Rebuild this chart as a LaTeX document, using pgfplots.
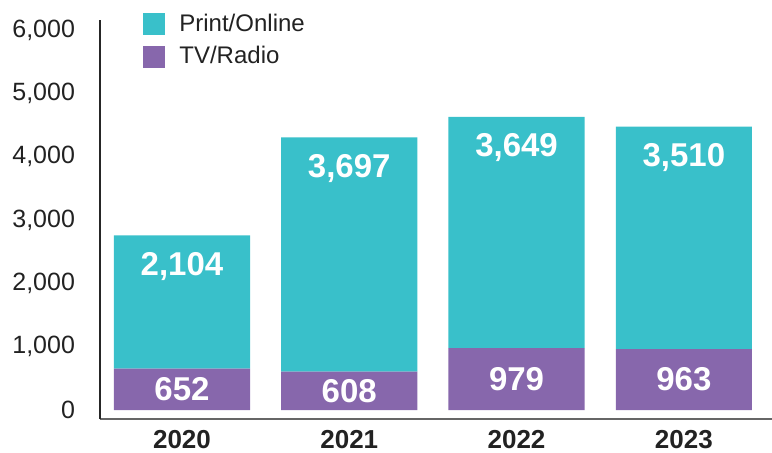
\documentclass[border=0pt]{standalone}
\usepackage{pgfplots}
\pgfplotsset{compat=1.18}
\usepackage{fontspec}
\setmainfont{Liberation Sans}
\definecolor{teal1}{RGB}{57,192,202}
\definecolor{purp1}{RGB}{135,103,172}
\definecolor{txt}{RGB}{34,34,34}
\begin{document}
\begin{tikzpicture}
\begin{axis}[
    name=ax,
    scale only axis,
    width=336pt, height=199.5pt,
    ybar stacked,
    bar width=0.814,
    xmin=-0.49, xmax=3.527,
    ymin=-142, ymax=6158,
    axis x line*=bottom, axis y line*=left,
    x axis line style={-, draw=black!60, line width=1pt},
    y axis line style={-, draw=black!85, line width=0.6pt},
    xtick={0,1,2,3},
    xticklabels={2020,2021,2022,2023},
    ytick={0,1000,...,6000},
    major tick length=0pt,
    /pgf/number format/assume math mode=true,
    /pgf/number format/1000 sep={,},
    yticklabel style={font=\fontsize{12.5}{14}\selectfont, text=txt, xshift=-9pt},
    xticklabel style={font=\fontsize{13}{15}\selectfont\bfseries, text=txt, yshift=-2pt},
    point meta=explicit,
    nodes near coords,
    every node near coord/.append style={font=\fontsize{16.5}{18}\selectfont\bfseries,
        text=white, anchor=center, yshift={(\myshift)*1pt}},
    reverse legend,
    legend style={at={(0.064,1.026)}, anchor=north west, draw=none, fill=none,
        inner sep=0pt, row sep=2pt, font=\fontsize{12}{14}\selectfont, text=txt,
        /tikz/every odd column/.append style={column sep=5pt}},
    legend cell align=left,
]
% TV/Radio (bottom)
\addplot[draw=none, fill=purp1,
    legend image code/.code={\fill[purp1] (0pt,-5.5pt) rectangle (11pt,5.5pt);},
    visualization depends on={value 0 \as \myshift}]
    table[meta index=2] {
    x y meta
    0 652 652
    1 608 608
    2 979 979
    3 963 963
    };
% Print/Online (top)
\addplot[draw=none, fill=teal1,
    legend image code/.code={\fill[teal1] (0pt,-5.5pt) rectangle (11pt,5.5pt);},
    visualization depends on={value 0.015833*\thisrowno{1}-15.5 \as \myshift}]
    table[meta index=2] {
    x y meta
    0 2104 2104
    1 3697 3697
    2 3649 3649
    3 3510 3510
    };
\legend{TV/Radio, Print/Online}
\end{axis}
\pgfresetboundingbox
\path ([xshift=-50pt,yshift=-16.5pt]ax.south west) rectangle ([yshift=10pt]ax.north east);
\end{tikzpicture}
\end{document}
